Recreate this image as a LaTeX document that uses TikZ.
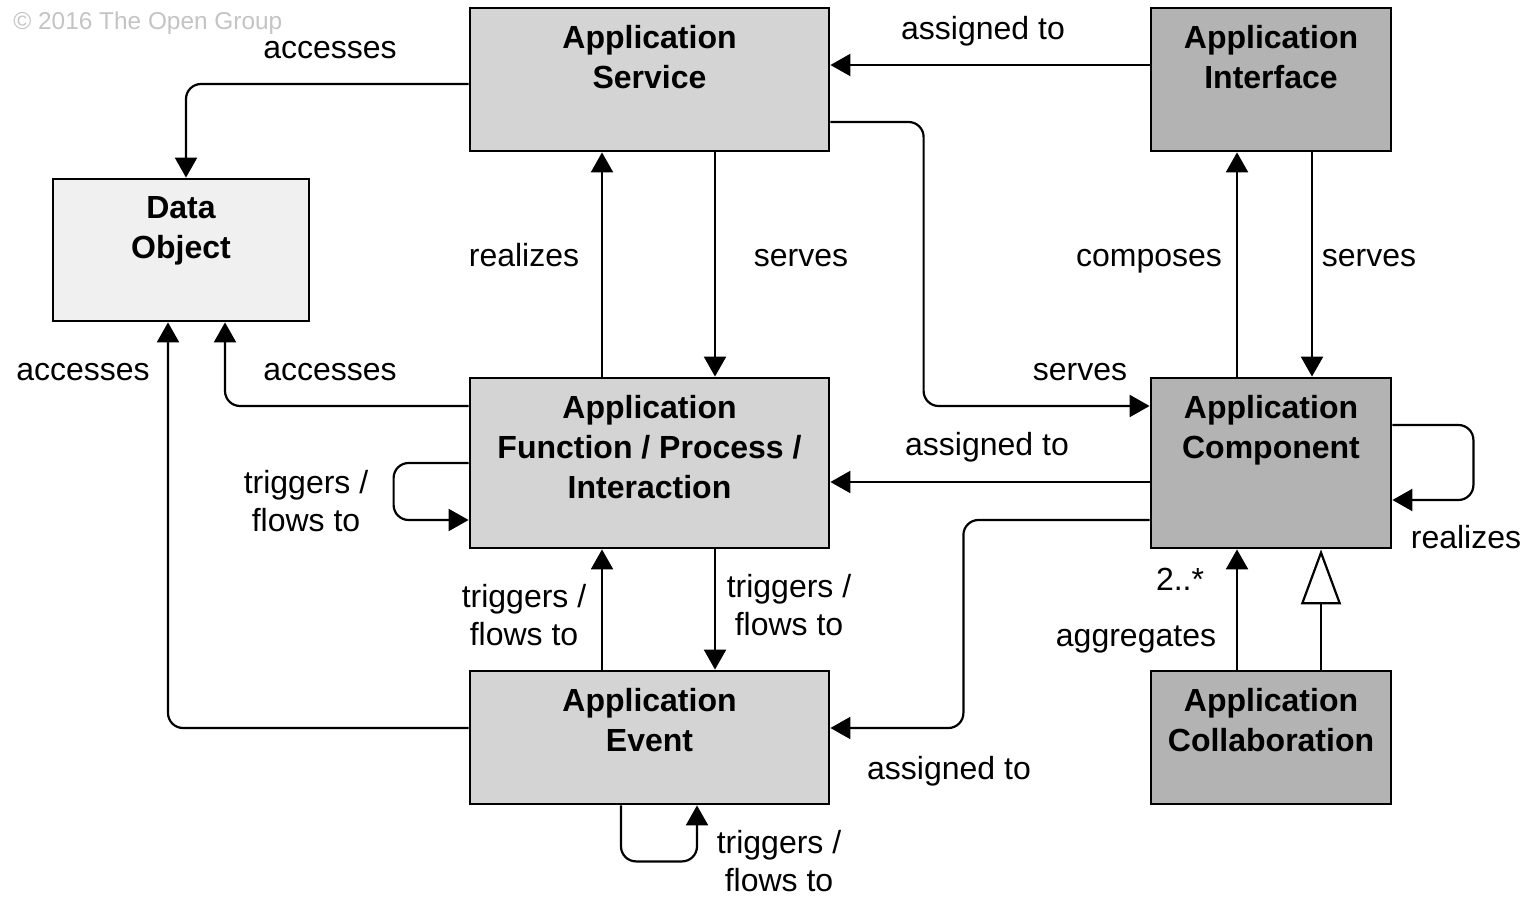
\documentclass[tikz,border=0pt]{standalone}
\usepackage{fontspec}
\setmainfont{Liberation Sans}
\usetikzlibrary{arrows.meta,calc}
\definecolor{lightbox}{HTML}{F0F0F0}
\definecolor{midbox}{HTML}{D4D4D4}
\definecolor{darkbox}{HTML}{B3B3B3}
\definecolor{copygray}{HTML}{C4C4C4}
\begin{document}
\begin{tikzpicture}[x=0.5pt,y=-0.5pt,
  box/.style={draw, line width=1.4pt, inner sep=0pt},
  boxtext/.style={anchor=north, inner sep=0pt, align=center, font=\fontsize{16}{20}\selectfont\bfseries},
  lbl/.style={inner sep=0pt, font=\fontsize{16}{19}\selectfont},
  lbl2/.style={inner sep=0pt, align=center, font=\fontsize{16}{19}\selectfont},
  conn/.style={line width=1.1pt, rounded corners=7.5pt, -{Triangle[length=10pt,width=11pt]}},
  spec/.style={line width=1.1pt, -{Triangle[open,length=27.5pt,width=20pt,fill=white]}}
]
\useasboundingbox (0,0) rectangle (1524,897);

% boxes
\node[box, fill=lightbox, minimum width=128pt, minimum height=71pt] (dob) at (181,250) {};
\node[box, fill=midbox, minimum width=179.5pt, minimum height=71.5pt] (svc) at (649.5,79.5) {};
\node[box, fill=darkbox, minimum width=120pt, minimum height=71.5pt] (aif) at (1271,79.5) {};
\node[box, fill=midbox, minimum width=179.5pt, minimum height=85pt] (fun) at (649.5,463) {};
\node[box, fill=darkbox, minimum width=120pt, minimum height=85pt] (cmp) at (1271,463) {};
\node[box, fill=midbox, minimum width=179.5pt, minimum height=66.5pt] (evt) at (649.5,737.5) {};
\node[box, fill=darkbox, minimum width=120pt, minimum height=66.5pt] (col) at (1271,737.5) {};

% box texts
\node[boxtext] (dobT) at ($(dob.north)+(0,18)$) {Data\\Object};
\node[boxtext] (svcT) at ($(svc.north)+(0,18)$) {Application\\Service};
\node[boxtext] (aifT) at ($(aif.north)+(0,18)$) {Application\\Interface};
\node[boxtext] (funT) at ($(fun.north)+(0,18)$) {Application\\Function / Process /\\Interaction};
\node[boxtext] (cmpT) at ($(cmp.north)+(0,18)$) {Application\\Component};
\node[boxtext] (evtT) at ($(evt.north)+(0,18)$) {Application\\Event};
\node[boxtext] (colT) at ($(col.north)+(0,18)$) {Application\\Collaboration};

% copyright
\node[anchor=base west, inner sep=0pt, text=copygray, font=\fontsize{12.2}{14}\selectfont] (copy) at (13,30) {© 2016 The Open Group};

% connectors
\draw[conn] ($(svc.west)+(0,4.5)$) -| ($(dob.north)+(5,0)$);
\draw[conn] ($(aif.west)+(0,-14.5)$) -- ($(svc.east)+(0,-14.5)$);
\draw[conn] ($(svc.east)+(0,42.5)$) -| ($(cmp.west)+(-226,-57)$) -- ($(cmp.west)+(0,-57)$);
\draw[conn] ($(fun.north)+(-47.5,0)$) -- ($(svc.south)+(-47.5,0)$);
\draw[conn] ($(svc.south)+(65.5,0)$) -- ($(fun.north)+(65.5,0)$);
\draw[conn] ($(cmp.north)+(-34,0)$) -- ($(aif.south)+(-34,0)$);
\draw[conn] ($(aif.south)+(41,0)$) -- ($(cmp.north)+(41,0)$);
\draw[conn] ($(fun.west)+(0,-57)$) -| ($(dob.south)+(44,0)$);
\draw[conn] ($(evt.west)+(0,-9.5)$) -| ($(dob.south)+(-13,0)$);
\draw[conn] (fun.west) -- ++(-75,0) |- ($(fun.west)+(0,57)$);
\draw[conn] ($(cmp.west)+(0,19)$) -- ($(fun.east)+(0,19)$);
\draw[conn] ($(cmp.east)+(0,-38)$) -- ++(81,0) |- ($(cmp.east)+(0,37)$);
\draw[conn] ($(cmp.west)+(0,57)$) -| ($(evt.east)+(133,-9.5)$) -- ($(evt.east)+(0,-9.5)$);
\draw[conn] ($(evt.north)+(-47.5,0)$) -- ($(fun.south)+(-47.5,0)$);
\draw[conn] ($(fun.south)+(65.5,0)$) -- ($(evt.north)+(65.5,0)$);
\draw[conn] ($(col.north)+(-34,0)$) -- ($(cmp.south)+(-34,0)$);
\draw[spec] ($(col.north)+(50,0)$) -- ($(cmp.south)+(50,0)$);
\draw[conn] ($(evt.south)+(-28.5,0)$) -- ++(0,56) -| ($(evt.south)+(47.5,0)$);

% labels
\node[lbl, anchor=base] (l1) at (330,59) {accesses};
\node[lbl, anchor=base] (l2) at (983,40) {assigned to};
\node[lbl, anchor=base] (l3) at (524,267) {realizes};
\node[lbl, anchor=base] (l4) at (801,267) {serves};
\node[lbl, anchor=base] (l5) at (1149,267) {composes};
\node[lbl, anchor=base] (l6) at (1369,267) {serves};
\node[lbl, anchor=base] (l7) at (1080,381) {serves};
\node[lbl, anchor=base] (l8) at (83,381) {accesses};
\node[lbl, anchor=base] (l9) at (330,381) {accesses};
\node[lbl, anchor=base] (l10) at (987,456) {assigned to};
\node[lbl2] (l11) at (306,501.5) {triggers /\\flows to};
\node[lbl, anchor=base] (l12) at (1466,548) {realizes};
\node[lbl, anchor=base] (l13) at (1180,590) {2..*};
\node[lbl2] (l14) at (524,615.5) {triggers /\\flows to};
\node[lbl2] (l15) at (789,605.5) {triggers /\\flows to};
\node[lbl, anchor=base] (l16) at (1136,646) {aggregates};
\node[lbl, anchor=base] (l17) at (949,779) {assigned to};
\node[lbl2] (l18) at (779,861.5) {triggers /\\flows to};
\end{tikzpicture}
\end{document}
